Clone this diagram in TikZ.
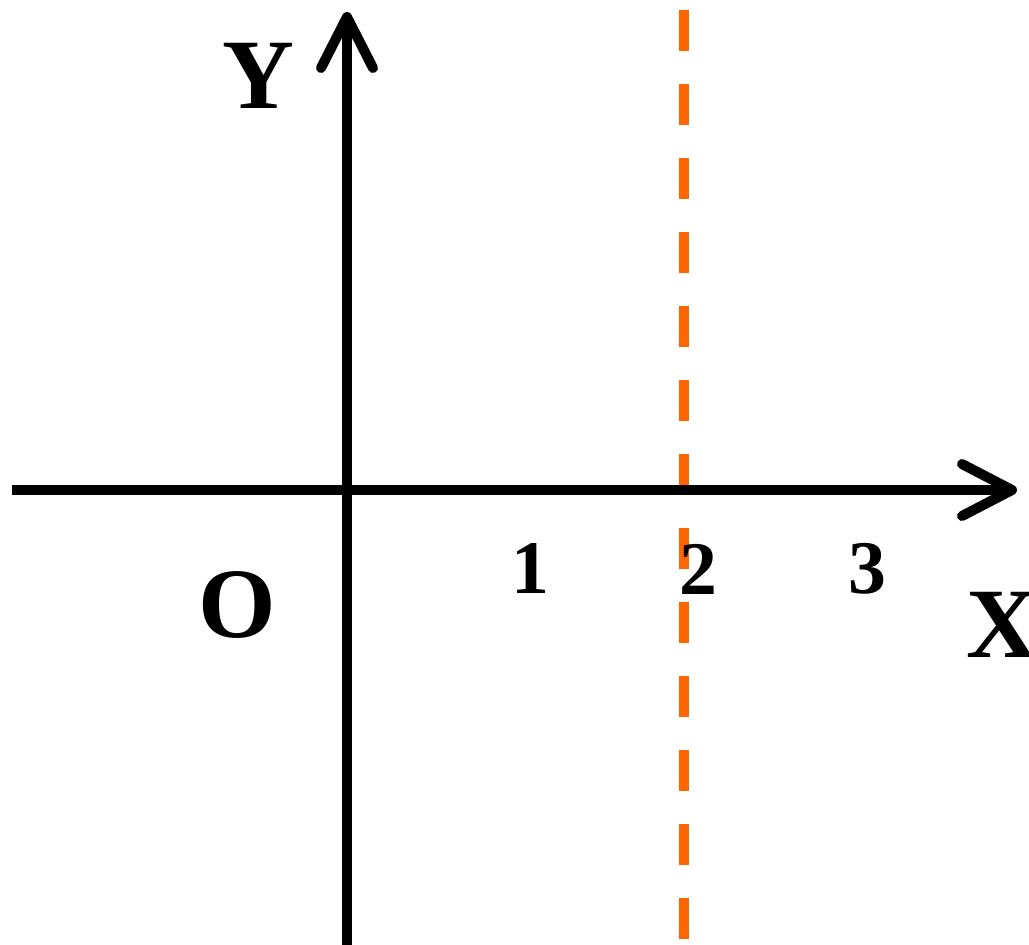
\documentclass[tikz,border=0pt]{standalone}
\usepackage{fontspec}
\setmainfont{Liberation Serif}
\begin{document}
\begin{tikzpicture}[x=1bp,y=-1bp,
  axis/.style={line width=10bp,black},
  tip/.style={line width=10bp,black,line cap=round,line join=round},
  guide/.style={line width=10bp,color={rgb,255:red,255;green,102;blue,0},dash pattern=on 41bp off 33bp},
  biglab/.style={inner sep=0pt,font=\fontsize{100}{100}\selectfont\bfseries},
  numlab/.style={inner sep=0pt,font=\fontsize{76}{76}\selectfont\bfseries}]
\useasboundingbox (0,0) rectangle (1029,945);
% coordinates
\coordinate (ybot) at (347,945);
\coordinate (ytop) at (347,17);
\coordinate (xl) at (12,490);
\coordinate (xr) at (1012,490);
\coordinate (dtop) at (684,10);
\coordinate (dbot) at (684,945);
% dashed guide
\draw[guide] (dtop) -- (dbot);
% axes
\draw[axis] (ybot) -- (ytop);
\draw[axis] (xl) -- (xr);
\draw[tip] (321,68) -- (ytop) -- (373,68);
\draw[tip] (962,464) -- (xr) -- (962,516);
% labels
\node[biglab] (Y) at (258,76) {Y};
\node[biglab,anchor=west] (X) at (966,625) {X};
\node[biglab] (O) at (237,605) {O};
\node[numlab] (n1) at (530,569) {1};
\node[numlab] (n2) at (698,569) {2};
\node[numlab] (n3) at (867,569) {3};
\end{tikzpicture}
\end{document}
